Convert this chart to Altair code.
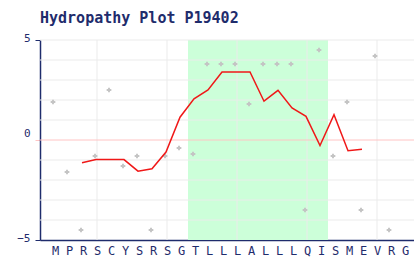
import json
import altair as alt
import pandas as pd

# ---- data ----
residues = list("MPRSCYSRSGTLLLALLLQISMEVRG")
# per-residue hydropathy values (grey points), residues 0..24
point_values = [1.9, -1.6, -4.5, -0.8, 2.5, -1.3, -0.8, -4.5, -0.8, -0.4,
                -0.7, 3.8, 3.8, 3.8, 1.8, 3.8, 3.8, 3.8, -3.5, 4.5,
                -0.8, 1.9, -3.5, 4.2, -4.5]
# smoothed profile (red line), drawn at residues 2..22
line_start = 2
line_values = [-1.14, -0.98, -0.98, -0.98, -1.56, -1.44, -0.6, 1.14, 2.06, 2.5,
               3.4, 3.4, 3.4, 1.94, 2.48, 1.6, 1.18, -0.28, 1.26, -0.54, -0.46]
# highlighted (hydrophobic) region
band_start = [9.5]
band_end = [19.5]
band_top = [5]
band_bottom = [-5]
# grid positions
x_grid = [3, 8, 13, 18, 23]
y_grid = [-4, -3, -2, -1, 1, 2, 3, 4, 5]
y_ticks = [-5, 0, 5]

NAVY = "#1f2c6c"
FONT = "DejaVu Sans Mono"

pts = pd.DataFrame({"idx": list(range(len(point_values))), "v": point_values})
ln = pd.DataFrame({"idx": [line_start + k for k in range(len(line_values))],
                   "v": line_values})
band = pd.DataFrame({"a": band_start, "b": band_end,
                     "t": band_top, "u": band_bottom})
xg = pd.DataFrame({"x": x_grid})
yg = pd.DataFrame({"y": y_grid})

xscale = alt.Scale(domain=[-15 / 14, 25 + 9 / 14], nice=False, zero=False)
yscale = alt.Scale(domain=[-5, 5], nice=False, zero=False)

label_expr = json.dumps(residues) + "[datum.value]"

x_axis = alt.Axis(values=list(range(len(residues))), labelExpr=label_expr,
                  ticks=False, grid=False, title=None, domainColor=NAVY,
                  domainWidth=1.5, labelColor=NAVY, labelFont=FONT,
                  labelFontSize=12, labelPadding=5, labelFlush=False,
                  labelOverlap=False, labelBound=False)
y_axis = alt.Axis(values=y_ticks, grid=False, title=None, domainColor=NAVY,
                  domainWidth=1.5, tickSize=5, labelColor=NAVY,
                  tickColor={"condition": {"test": "datum.value == 0",
                                           "value": "#ffc4c4"},
                             "value": NAVY},
                  labelFont=FONT, labelFontSize=11, labelPadding=5,
                  labelOffset={"condition": {"test": "datum.value == 0",
                                             "value": -7},
                               "value": -2},
                  labelFlush=False, labelOverlap=False, format="d")

band_layer = alt.Chart(band).mark_rect(color="#ccffd9").encode(
    x=alt.X("a:Q", scale=xscale, axis=x_axis),
    x2="b:Q",
    y=alt.Y("t:Q", scale=yscale, axis=y_axis),
    y2="u:Q",
)

hgrid = alt.Chart(yg).mark_rule(color="#ebebeb", strokeWidth=1).encode(
    y=alt.Y("y:Q", scale=yscale, axis=y_axis),
)
vgrid = alt.Chart(xg).mark_rule(color="#ebebeb", strokeWidth=1).encode(
    x=alt.X("x:Q", scale=xscale, axis=x_axis),
)
zero = alt.Chart(pd.DataFrame({"y": [0]})).mark_rule(
    color="#ffc4c4", strokeWidth=1).encode(
    y=alt.Y("y:Q", scale=yscale, axis=y_axis),
)

points = alt.Chart(pts).mark_point(
    shape="cross", filled=True, size=22, color="#c4c4c4", opacity=1,
    xOffset=-2).encode(
    x=alt.X("idx:Q", scale=xscale, axis=x_axis),
    y=alt.Y("v:Q", scale=yscale, axis=y_axis),
)

line = alt.Chart(ln).mark_line(color="#f01818", strokeWidth=1.5,
                               xOffset=-1).encode(
    x=alt.X("idx:Q", scale=xscale, axis=x_axis),
    y=alt.Y("v:Q", scale=yscale, axis=y_axis),
)

chart = alt.layer(band_layer, hgrid, vgrid, zero, points, line).properties(
    width=374, height=200,
    title=alt.TitleParams("Hydropathy Plot P19402", anchor="start",
                          frame="group", font=FONT, fontSize=15,
                          fontWeight="bold", color=NAVY, offset=6),
    autosize=alt.AutoSizeParams(type="none"),
    padding={"left": 40, "top": 40, "right": 0, "bottom": 20},
    background="white",
).configure_view(stroke=None)

chart.save("out.html", embed_options={"renderer": "svg", "actions": False})
